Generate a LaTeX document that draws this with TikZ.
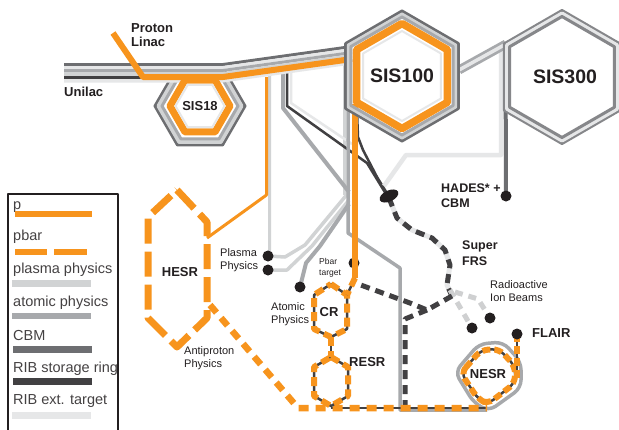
\documentclass[tikz,border=0pt]{standalone}
\usepackage{fontspec}
\setmainfont{Liberation Sans}
\usetikzlibrary{calc}
\definecolor{orng}{RGB}{247,148,29}
\definecolor{plasma}{RGB}{209,211,212}
\definecolor{atomic}{RGB}{167,169,172}
\definecolor{cbm}{RGB}{109,110,113}
\definecolor{ribsr}{RGB}{65,64,66}
\definecolor{ribext}{RGB}{230,231,232}
\definecolor{ink}{RGB}{35,31,32}
\newcommand{\hexP}[4]{\draw[#1] ($(#2,#3)+(90:#4)$) -- ($(#2,#3)+(30:#4)$) -- ($(#2,#3)+(-30:#4)$) -- ($(#2,#3)+(-90:#4)$) -- ($(#2,#3)+(-150:#4)$) -- ($(#2,#3)+(150:#4)$) -- cycle;}
\newcommand{\hexF}[4]{\draw[#1] ($(#2,#3)+(0:#4)$) -- ($(#2,#3)+(60:#4)$) -- ($(#2,#3)+(120:#4)$) -- ($(#2,#3)+(180:#4)$) -- ($(#2,#3)+(240:#4)$) -- ($(#2,#3)+(300:#4)$) -- cycle;}
\begin{document}
\begin{tikzpicture}[x=1pt,y=-1pt,line join=round,
  lbl/.style={font=\fontsize{13}{14}\selectfont\bfseries,text=ink,inner sep=0pt,align=left},
  big/.style={font=\fontsize{19.5}{20}\selectfont\bfseries,text=ink,inner sep=0pt},
  sml/.style={font=\fontsize{11}{12.8}\selectfont,text=ink,inner sep=0pt,align=left},
  tiny/.style={font=\fontsize{8.5}{10.5}\selectfont,text=ink,inner sep=0pt,align=left},
  dot/.style={circle,minimum size=11pt,inner sep=0pt},
  leg/.style={font=\fontsize{14.5}{16}\selectfont,text=ink!85,anchor=base west,inner sep=0pt},
  pdash/.style={orng,line width=6.5,dash pattern=on 10pt off 7pt},
  hdash/.style={orng,line width=7,dash pattern=on 25pt off 8pt},
  rdash/.style={orng,line width=6,dash pattern=on 9pt off 5pt},
  ndash/.style={orng,line width=6,dash pattern=on 8pt off 4pt},
  ddash/.style={ribsr,line width=5,dash pattern=on 9pt off 6pt},
  ldash/.style={ribext!90!black,line width=5,dash pattern=on 8pt off 6pt},
]
\useasboundingbox (0,0) rectangle (619,429);
\fill[white] (0,0) rectangle (619,429);

% named points
\node[dot] (pl1) at (268,256) {};
\node[dot] (pl2) at (268,270) {};
\node[dot] (at1) at (300,287) {};
\node[dot] (hades) at (506,196) {};
\node[dot] (rib1) at (472,328) {};
\node[dot] (rib2) at (490,318) {};
\node[dot] (flair) at (517,334) {};
\coordinate (pbar) at (354,263);
\coordinate (jn) at (427,310);
\coordinate (sfe) at (452,296);

% SIS18 outer layers
\hexF{cbm,line width=3}{200}{106}{45}
\hexF{plasma,line width=4}{200}{106}{41.5}
\hexF{atomic,line width=3}{200}{106}{38}

% light/gray lines from beam line
\draw[plasma,line width=3] (269.5,74) -- (269.5,250) -- (pl1.center);
\draw[plasma,line width=3] (344.5,55) -- (344.5,195);
\draw[plasma,line width=3.5] (pl1.center) -- (285,257) -- (305,245) -- (349,192);
\draw[plasma,line width=3.5] (pl2.center) -- (287,270) -- (312,246) -- (349,200);
\draw[atomic,line width=4] (283,72) -- (283,108) -- (349,192);
\draw[atomic,line width=4] (at1.center) -- (306,263) -- (320,246) -- (349,204);
\draw[ribext,line width=2.5] (291,72) -- (291,103) -- (352,144);
\draw[ribsr,line width=2.5] (287,72) -- (287,106) -- (367,163) -- (386,194);
\draw[ribsr,line width=2.5] (357,112) -- (358,137) -- (363,150) -- (377,177) -- (388,195);
\draw[atomic,line width=3.5] (348,55) -- (348,233) -- (400,268) -- (400,410) -- (487,410);

% SIS300 related
\draw[ribext,line width=4.5] (501,48) -- (501,155) -- (406,155) -- (384,186);
\draw[cbm,line width=4] (505.5,45) -- (hades.center);
\draw[atomic,line width=9] (459,70) -- (506,44);
\draw[ribext,line width=3.5] (459,70) -- (506,44);

% beam line Unilac -> SIS100
\foreach \yy/\cc/\ww in {64.5/cbm/3,67.5/ribext/3,70.5/atomic/3,74/plasma/4,77.5/ribsr/3,81/ribext/3}
  {\draw[\cc,line width=\ww pt] (64,\yy) -- (223,\yy) -- (352,\yy-18);}
\draw[orng,line width=6] (113,33) -- (143,77) -- (223,77) -- (352,59);
\draw[orng,line width=3] (266.5,77) -- (266.5,195) -- (207,238);

% SIS18 inner
\hexF{orng,line width=7}{200}{106}{30}
\hexF{ribext,line width=2,fill=white}{200}{106}{24.5}

% Super FRS
\draw[ribext,line width=5] (389,198) -- (397,218) -- (412,230) -- (432,238) -- (445,250) -- (450,265) -- (447,285) -- (sfe);
\draw[ddash] (389,198) -- (397,218) -- (412,230) -- (432,238) -- (445,250) -- (450,265) -- (447,285) -- (sfe);
\draw[ldash] (450,290) -- (rib1.center);
\draw[ldash] (455,292) -- (478,299) -- (rib2.center);
\draw[ddash] (sfe) -- (jn) -- (410,303) -- (358,284);
\draw[ddash] (jn) -- (405,319) -- (405,408);

% NESR
\draw[atomic,line width=3.5,rounded corners=8] (455,372) -- (479,344) -- (503,342) -- (521,362) -- (521,388) -- (489,411) -- (474,403) -- cycle;
\draw[ribsr,line width=2.5,rounded corners=7] (461,373) -- (481,350) -- (499,349) -- (515,366) -- (515,383) -- (488,404) -- (478,399) -- cycle;
\draw[ndash,rounded corners=7] (461,373) -- (481,350) -- (499,349) -- (515,366) -- (515,383) -- (488,404) -- (478,399) -- cycle;
\draw[ribsr,line width=2.5] (flair.center) -- (517,378);
\draw[ndash] (flair.center) -- (517,378);

% bottom line
\draw[ribsr,line width=2.5] (331,408) -- (487,408);
\draw[pdash] (210,305) -- (298,408) -- (487,408);

% HESR
\draw[hdash] (177,190) -- (207,222) -- (207,318) -- (177,347) -- (148,318) -- (148,217) -- cycle;

% CR, RESR
\draw[ribsr,line width=2.5] (331,284) -- (347,295) -- (347,329) -- (331,337) -- (314,329) -- (314,295) -- cycle;
\draw[rdash] (331,284) -- (347,295) -- (347,329) -- (331,337) -- (314,329) -- (314,295) -- cycle;
\draw[ribsr,line width=2.5] (331,357) -- (348,367) -- (348,396) -- (331,406) -- (314,396) -- (314,367) -- cycle;
\draw[rdash] (331,357) -- (348,367) -- (348,396) -- (331,406) -- (314,396) -- (314,367) -- cycle;
\draw[ribsr,line width=2.5] (331,337) -- (331,357);
\draw[rdash] (331,337) -- (331,357);
\draw[ribsr,line width=2.5] (355,278) -- (347,295);
\draw[rdash] (355,278) -- (347,295);

% pbar target
\fill[ink] (pbar) circle (5.5);
\draw[orng,line width=6] (355,104) -- (355,278);

% ellipse
\fill[ink,rotate around={25:(389,196)}] (389,196) ellipse [x radius=10pt,y radius=5.5pt];

% dots on top
\foreach \d in {pl1,pl2,at1,hades,rib1,rib2,flair} {\fill[ink] (\d.center) circle (5.5);}

% SIS100
\hexP{cbm,line width=3}{402}{76}{65}
\hexP{plasma,line width=3}{402}{76}{62}
\hexP{atomic,line width=3}{402}{76}{59}
\hexP{orng,line width=7.5}{402}{76}{52.5}
\hexP{ribext,line width=2,fill=white}{402}{76}{45}

% SIS300
\hexP{atomic!80!black,line width=3}{562}{77}{66.5}
\hexP{ribext,line width=4}{562}{77}{63.5}
\hexP{atomic!80!black,line width=3,fill=white}{562}{77}{60.5}

% labels
\node[lbl,anchor=west] (tlinac) at (131,35) {Proton\\Linac};
\node[lbl,anchor=west] (tunilac) at (64,92) {Unilac};
\node[lbl] (tsis18) at (200,106) {SIS18};
\node[big] (tsis100) at (402,76) {SIS100};
\node[big] (tsis300) at (565,77) {SIS300};
\node[lbl,anchor=west,font=\fontsize{12.5}{15}\selectfont\bfseries] (thades) at (441,196) {HADES* +\\CBM};
\node[lbl,anchor=west,font=\fontsize{12.5}{15.5}\selectfont\bfseries] (tsfrs) at (462,253) {Super\\FRS};
\node[sml,anchor=west] (trib) at (490,291) {Radioactive\\Ion Beams};
\node[lbl,anchor=west] (tflair) at (532,333) {FLAIR};
\node[lbl] (tnesr) at (488,374) {NESR};
\node[lbl,anchor=west] (tresr) at (349,362) {RESR};
\node[lbl] (tcr) at (329,312) {CR};
\node[lbl] (thesr) at (180,272) {HESR};
\node[sml,anchor=west] (tplasma) at (220,260) {Plasma\\Physics};
\node[sml,anchor=west] (tatomic) at (271,314) {Atomic\\Physics};
\node[sml,anchor=west] (tanti) at (184,358) {Antiproton\\Physics};
\node[tiny,anchor=west] (tpbar) at (319,268) {Pbar\\target};

% legend
\draw[ink,line width=1.5] (8,194) rectangle (118,440);
\begin{scope}
\clip (9,190) rectangle (117.5,429);
\node[leg] (lp) at (13,209) {p};
\node[leg] (lpbar) at (13,240) {pbar};
\node[leg] (lpl) at (13,273.5) {plasma physics};
\node[leg] (lat) at (13,306.5) {atomic physics};
\node[leg] (lcbm) at (13,340) {CBM};
\node[leg] (lrs) at (13,372) {RIB storage ring};
\node[leg] (lre) at (13,404) {RIB ext. target};
\end{scope}
\draw[orng,line width=6] (15,214) -- (92,214);
\draw[orng,line width=6] (15,252) -- (47,252) (54,252) -- (87,252);
\draw[plasma,line width=7] (12,283) -- (91,283);
\draw[atomic,line width=6] (12,316) -- (91,316);
\draw[cbm,line width=7] (13,349) -- (92,349);
\draw[ribsr,line width=7] (13,381) -- (92,381);
\draw[ribext,line width=7] (12,415) -- (91,415);
\end{tikzpicture}
\end{document}
